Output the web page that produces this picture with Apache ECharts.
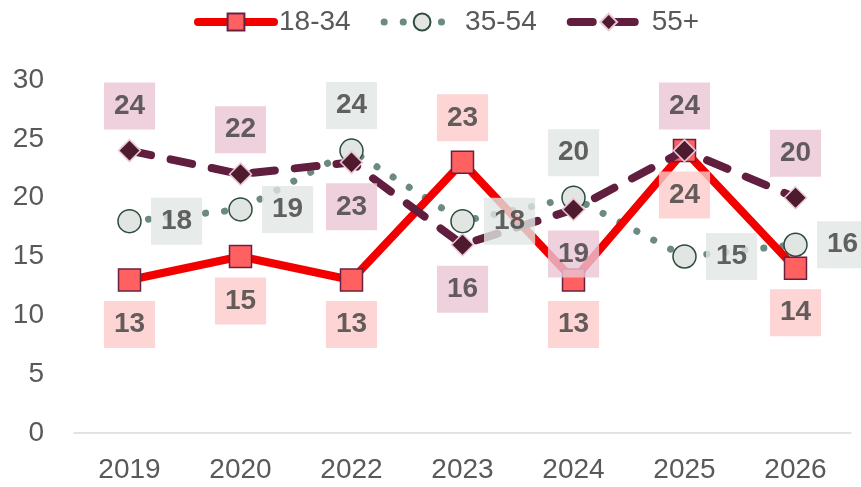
<!DOCTYPE html>
<html>
<head>
<meta charset="utf-8">
<script src="https://cdn.jsdelivr.net/npm/echarts@6/dist/echarts.min.js"></script>
<style>
  html, body { margin: 0; padding: 0; background: #fff; }
  #chart { width: 861px; height: 487px; }
</style>
</head>
<body>
<div id="chart"></div>
<script>
var years = ['2019', '2020', '2022', '2023', '2024', '2025', '2026'];
var young = [13, 15, 13, 23, 13, 24, 14];
var middle = [18, 19, 24, 18, 20, 15, 16];
var senior = [24, 22, 23, 16, 19, 24, 20];

// label placement per point
var youngPos = ['bottom', 'bottom', 'bottom', 'top', 'bottom', 'bottom', 'bottom'];
var middlePos = ['right', 'right', 'top', 'right', 'top', 'right', 'right'];
var seniorPos = ['top', 'top', 'bottom', 'bottom', 'bottom', 'top', 'top'];

var fontName = 'Liberation Sans';

var youngLine = { color: '#F20000', width: 8, cap: 'round', join: 'round' };
var middleLine = { color: '#6B8A80', width: 7, type: [0.1, 19], cap: 'round' };
var seniorLine = { color: '#621E3E', width: 8, type: [22, 20], cap: 'round' };

function withPos(values, pos) {
	var out = [];
	for (var i = 0; i < values.length; i++) {
		out.push({ value: values[i], label: { position: pos[i] } });
	}
	return out;
}

// labels drawn by a transparent scatter on top of every line
function labelSeries(name, values, pos, size, bg) {
	return {
		name: name + ' labels',
		type: 'scatter',
		data: withPos(values, pos),
		symbol: 'rect',
		symbolSize: size,
		silent: true,
		z: 10,
		itemStyle: { color: 'rgba(0,0,0,0)' },
		label: {
			show: true,
			distance: 10,
			backgroundColor: bg,
			color: '#3D3D3D',
			fontFamily: fontName,
			fontWeight: 'bold',
			fontSize: 28,
			lineHeight: 29,
			padding: [9, 10, 9, 10]
		}
	};
}

var option = {
	animation: false,
	legend: {
		top: 3,
		left: 189,
		itemWidth: 76,
		itemHeight: 21,
		itemGap: 30,
		textStyle: { fontFamily: fontName, fontSize: 28, color: '#595959' },
		data: [
			{ name: '18-34', lineStyle: youngLine },
			{ name: '35-54', lineStyle: middleLine },
			{ name: '55+', lineStyle: seniorLine }
		]
	},
	grid: { left: 74, right: 10, top: 80, bottom: 54 },
	xAxis: {
		type: 'category',
		data: years,
		axisTick: { show: false },
		axisLine: { lineStyle: { color: '#D9D9D9', width: 1.5 } },
		axisLabel: { fontFamily: fontName, fontSize: 28, color: '#595959', margin: 23 }
	},
	yAxis: {
		type: 'value',
		min: 0,
		max: 30,
		interval: 5,
		splitLine: { show: false },
		axisLabel: { fontFamily: fontName, fontSize: 28, color: '#595959', margin: 30 }
	},
	series: [
		{
			name: '35-54',
			type: 'line',
			data: middle,
			symbol: 'circle',
			symbolSize: 23,
			z: 2,
			lineStyle: middleLine,
			itemStyle: { color: '#E1E6E3', borderColor: '#2F4A40', borderWidth: 1.5 }
		},
		{
			name: '18-34',
			type: 'line',
			data: young,
			symbol: 'rect',
			symbolSize: 22,
			z: 3,
			lineStyle: youngLine,
			itemStyle: { color: '#FF6161', borderColor: '#6B2040', borderWidth: 1.5 }
		},
		{
			name: '55+',
			type: 'line',
			data: senior,
			symbol: 'diamond',
			symbolSize: 22,
			z: 4,
			lineStyle: seniorLine,
			itemStyle: { color: '#4E1A2E', borderColor: '#EBC6D6', borderWidth: 1.5 }
		},
		labelSeries('18-34', young, youngPos, 22, '#FDCACA'),
		labelSeries('35-54', middle, middlePos, 23, '#E1E6E3'),
		labelSeries('55+', senior, seniorPos, 22, '#EBC6D6')
	]
};

var myChart = echarts.init(document.getElementById('chart'));
myChart.setOption(option);
</script>
</body>
</html>
